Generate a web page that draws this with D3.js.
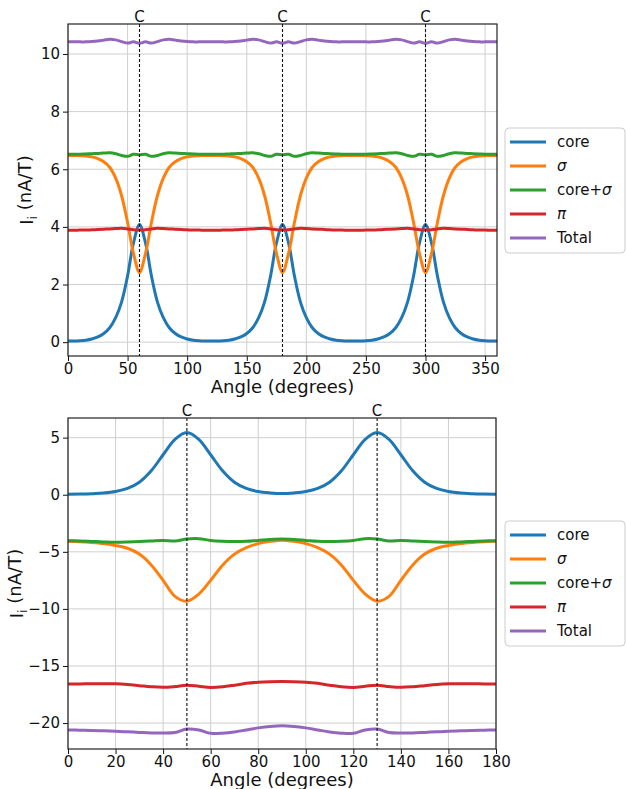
<!DOCTYPE html>
<html>
<head>
<meta charset="utf-8">
<script src="https://cdn.jsdelivr.net/npm/d3@7.9.0/dist/d3.min.js"></script>
<style>
  body { margin: 0; background: #fff; }
  svg { display: block; font-family: "DejaVu Sans", sans-serif; }
</style>
</head>
<body>
<svg id="chart" width="626" height="789"></svg>
<script>
// series shared by both panels
const seriesNames = ["core", "σ", "core+σ", "π", "Total"];
const colors = ["#1f77b4", "#ff7f0e", "#2ca02c", "#d62728", "#9467bd"];

// ---- top panel: 0..360 degrees
const topAngles = [0,5,10,15,20,25,30,35,40,45,50,55,60,65,70,75,80,85,90,95,100,105,110,115,120,
  125,130,135,140,145,150,155,160,165,170,175,180,185,190,195,200,205,210,215,220,225,230,235,240,
  245,250,255,260,265,270,275,280,285,290,295,300,305,310,315,320,325,330,335,340,345,350,355,360];
const topCore = [0.04,0.04,0.05,0.07,0.11,0.18,0.30,0.50,0.85,1.40,2.30,3.45,4.08,3.45,2.30,1.40,0.85,0.50,0.30,0.18,0.11,0.07,0.05,0.04,0.04,
  0.04,0.05,0.07,0.11,0.18,0.30,0.50,0.85,1.40,2.30,3.45,4.08,3.45,2.30,1.40,0.85,0.50,0.30,0.18,0.11,0.07,0.05,0.04,0.04,
  0.04,0.05,0.07,0.11,0.18,0.30,0.50,0.85,1.40,2.30,3.45,4.08,3.45,2.30,1.40,0.85,0.50,0.30,0.18,0.11,0.07,0.05,0.04,0.04];
const topSigma = [6.48,6.48,6.47,6.46,6.43,6.37,6.26,6.07,5.69,5.08,4.15,3.07,2.42,3.07,4.15,5.08,5.69,6.07,6.26,6.37,6.43,6.46,6.47,6.48,6.48,
  6.48,6.47,6.46,6.43,6.37,6.26,6.07,5.69,5.08,4.15,3.07,2.42,3.07,4.15,5.08,5.69,6.07,6.26,6.37,6.43,6.46,6.47,6.48,6.48,
  6.48,6.47,6.46,6.43,6.37,6.26,6.07,5.69,5.08,4.15,3.07,2.42,3.07,4.15,5.08,5.69,6.07,6.26,6.37,6.43,6.46,6.47,6.48,6.48];
const topCoreSigma = [6.52,6.52,6.52,6.53,6.54,6.55,6.56,6.57,6.54,6.48,6.45,6.52,6.50,6.52,6.45,6.48,6.54,6.57,6.56,6.55,6.54,6.53,6.52,6.52,6.52,
  6.52,6.52,6.53,6.54,6.55,6.56,6.57,6.54,6.48,6.45,6.52,6.50,6.52,6.45,6.48,6.54,6.57,6.56,6.55,6.54,6.53,6.52,6.52,6.52,
  6.52,6.52,6.53,6.54,6.55,6.56,6.57,6.54,6.48,6.45,6.52,6.50,6.52,6.45,6.48,6.54,6.57,6.56,6.55,6.54,6.53,6.52,6.52,6.52];
const topPi = [3.88,3.88,3.89,3.89,3.90,3.91,3.92,3.93,3.94,3.95,3.93,3.90,3.89,3.90,3.93,3.95,3.94,3.93,3.92,3.91,3.90,3.89,3.89,3.88,3.88,
  3.88,3.89,3.89,3.90,3.91,3.92,3.93,3.94,3.95,3.93,3.90,3.89,3.90,3.93,3.95,3.94,3.93,3.92,3.91,3.90,3.89,3.89,3.88,3.88,
  3.88,3.89,3.89,3.90,3.91,3.92,3.93,3.94,3.95,3.93,3.90,3.89,3.90,3.93,3.95,3.94,3.93,3.92,3.91,3.90,3.89,3.89,3.88,3.88];
const topTotal = [10.42,10.42,10.42,10.42,10.43,10.45,10.48,10.51,10.49,10.43,10.38,10.42,10.37,10.42,10.38,10.43,10.49,10.51,10.48,10.45,10.43,10.42,10.42,10.42,10.42,
  10.42,10.42,10.42,10.43,10.45,10.48,10.51,10.49,10.43,10.38,10.42,10.37,10.42,10.38,10.43,10.49,10.51,10.48,10.45,10.43,10.42,10.42,10.42,10.42,
  10.42,10.42,10.42,10.43,10.45,10.48,10.51,10.49,10.43,10.38,10.42,10.37,10.42,10.38,10.43,10.49,10.51,10.48,10.45,10.43,10.42,10.42,10.42,10.42];
const topXTicks = [0, 50, 100, 150, 200, 250, 300, 350];
const topYTicks = [0, 2, 4, 6, 8, 10];
const topCarbons = [60, 180, 300];

// ---- bottom panel: 0..180 degrees
const botAngles = [0,5,10,15,20,25,30,35,40,45,50,55,60,65,70,75,80,85,90,
  95,100,105,110,115,120,125,130,135,140,145,150,155,160,165,170,175,180];
const botCore = [0.05,0.06,0.09,0.15,0.28,0.55,1.10,2.10,3.50,4.85,5.45,4.85,3.50,2.10,1.10,0.55,0.28,0.16,0.10,
  0.16,0.28,0.55,1.10,2.10,3.50,4.85,5.45,4.85,3.50,2.10,1.10,0.55,0.28,0.15,0.09,0.06,0.05];
const botSigma = [-4.07,-4.11,-4.18,-4.28,-4.44,-4.69,-5.20,-6.15,-7.50,-8.90,-9.32,-8.70,-7.50,-6.17,-5.20,-4.63,-4.28,-4.08,-3.98,
  -4.08,-4.28,-4.63,-5.20,-6.17,-7.50,-8.70,-9.32,-8.90,-7.50,-6.15,-5.20,-4.69,-4.44,-4.28,-4.18,-4.11,-4.07];
const botCoreSigma = [-4.02,-4.05,-4.09,-4.13,-4.16,-4.14,-4.10,-4.05,-4.00,-4.05,-3.88,-3.85,-4.00,-4.07,-4.10,-4.08,-4.00,-3.92,-3.88,
  -3.92,-4.00,-4.08,-4.10,-4.07,-4.00,-3.85,-3.88,-4.05,-4.00,-4.05,-4.10,-4.14,-4.16,-4.13,-4.09,-4.05,-4.02];
const botPi = [-16.58,-16.57,-16.55,-16.55,-16.56,-16.62,-16.72,-16.82,-16.87,-16.80,-16.68,-16.78,-16.88,-16.82,-16.68,-16.52,-16.42,-16.37,-16.35,
  -16.37,-16.42,-16.52,-16.68,-16.82,-16.88,-16.78,-16.68,-16.80,-16.87,-16.82,-16.72,-16.62,-16.56,-16.55,-16.55,-16.57,-16.58];
const botTotal = [-20.60,-20.62,-20.64,-20.68,-20.72,-20.76,-20.82,-20.87,-20.87,-20.82,-20.52,-20.60,-20.90,-20.89,-20.78,-20.60,-20.42,-20.29,-20.23,
  -20.29,-20.42,-20.60,-20.78,-20.89,-20.90,-20.60,-20.52,-20.82,-20.87,-20.87,-20.82,-20.76,-20.72,-20.68,-20.64,-20.62,-20.60];
const botXTicks = [0, 20, 40, 60, 80, 100, 120, 140, 160, 180];
const botYTicks = [-20, -15, -10, -5, 0, 5];
const botCarbons = [50, 130];

const svg = d3.select("#chart");

function drawPanel(p) {
  const x = d3.scaleLinear().domain(p.xDomain).range([p.left, p.right]);
  const y = d3.scaleLinear().domain(p.yDomain).range([p.bottom, p.top]);
  const g = svg.append("g");

  // grid
  g.append("g").selectAll("line").data(p.xTicks).enter().append("line")
    .attr("x1", d => x(d)).attr("x2", d => x(d))
    .attr("y1", p.top).attr("y2", p.bottom)
    .attr("stroke", "#cfcfcf").attr("stroke-width", 1);
  g.append("g").selectAll("line").data(p.yTicks).enter().append("line")
    .attr("x1", p.left).attr("x2", p.right)
    .attr("y1", d => y(d)).attr("y2", d => y(d))
    .attr("stroke", "#cfcfcf").attr("stroke-width", 1);

  // curves
  const line = d3.line().curve(d3.curveCatmullRom.alpha(0.5))
    .x((d, i) => x(p.angles[i])).y(d => y(d));
  p.series.forEach((vals, k) => {
    g.append("path").datum(vals)
      .attr("d", line)
      .attr("fill", "none")
      .attr("stroke", colors[k])
      .attr("stroke-width", 3);
  });

  // carbon positions
  g.append("g").selectAll("line").data(p.carbons).enter().append("line")
    .attr("x1", d => x(d)).attr("x2", d => x(d))
    .attr("y1", p.top).attr("y2", p.bottom)
    .attr("stroke", "#111").attr("stroke-width", 1.1)
    .attr("stroke-dasharray", "3,2");
  g.append("g").selectAll("text").data(p.carbons).enter().append("text")
    .attr("x", d => x(d)).attr("y", p.top - 2)
    .attr("text-anchor", "middle")
    .attr("font-size", 15).attr("fill", "#111")
    .text("C");

  // axes
  const xAxis = g.append("g").attr("transform", `translate(0,${p.bottom})`)
    .call(d3.axisBottom(x).tickValues(p.xTicks).tickSize(5).tickPadding(2).tickFormat(d3.format("d")));
  const yAxis = g.append("g").attr("transform", `translate(${p.left},0)`)
    .call(d3.axisLeft(y).tickValues(p.yTicks).tickSize(5).tickPadding(3).tickFormat(d3.format("d")));
  [xAxis, yAxis].forEach(a => {
    a.select(".domain").remove();
    a.selectAll("text").attr("font-size", 15).attr("fill", "#111").attr("font-family", "DejaVu Sans");
    a.selectAll("line").attr("stroke", "#111");
  });

  // spines
  g.append("rect")
    .attr("x", p.left).attr("y", p.top)
    .attr("width", p.right - p.left).attr("height", p.bottom - p.top)
    .attr("fill", "none").attr("stroke", "#222").attr("stroke-width", 1.2);

  // axis labels
  g.append("text")
    .attr("x", (p.left + p.right) / 2).attr("y", p.bottom + 37)
    .attr("text-anchor", "middle").attr("font-size", 18).attr("fill", "#111")
    .text("Angle (degrees)");
  const yl = g.append("text")
    .attr("transform", `translate(${p.ylabelX},${(p.top + p.bottom) / 2}) rotate(-90)`)
    .attr("text-anchor", "middle").attr("font-size", 18).attr("fill", "#111");
  yl.append("tspan").text("I");
  yl.append("tspan").attr("font-size", 12.6).attr("dy", "0.3em").text("i");
  yl.append("tspan").attr("dy", "-0.3em").text(" (nA/T)");

  // legend
  const lg = g.append("g").attr("transform", `translate(${p.legendX},${p.legendY})`);
  lg.append("rect")
    .attr("width", 120).attr("height", 125).attr("rx", 4)
    .attr("fill", "#fff").attr("fill-opacity", 0.8)
    .attr("stroke", "#cccccc").attr("stroke-width", 1);
  seriesNames.forEach((name, k) => {
    const cy = 14 + k * 24;
    lg.append("line")
      .attr("x1", 5).attr("x2", 41).attr("y1", cy).attr("y2", cy)
      .attr("stroke", colors[k]).attr("stroke-width", 3);
    const t = lg.append("text").attr("x", 52).attr("y", cy).attr("dy", "0.35em")
      .attr("font-size", 15).attr("fill", "#111");
    if (name.includes("σ") && name !== "σ") {
      t.append("tspan").text("core+");
      t.append("tspan").attr("font-style", "italic").text("σ");
    } else if (name === "σ" || name === "π") {
      t.append("tspan").attr("font-style", "italic").text(name);
    } else {
      t.text(name);
    }
  });
}

drawPanel({
  left: 68, right: 497, top: 24, bottom: 356,
  xDomain: [0, 360], yDomain: [-0.48, 11.04],
  xTicks: topXTicks, yTicks: topYTicks, carbons: topCarbons,
  angles: topAngles,
  series: [topCore, topSigma, topCoreSigma, topPi, topTotal],
  legendX: 505, legendY: 128, ylabelX: 33
});

drawPanel({
  left: 68, right: 496, top: 418, bottom: 749,
  xDomain: [0, 180], yDomain: [-22.27, 6.72],
  xTicks: botXTicks, yTicks: botYTicks, carbons: botCarbons,
  angles: botAngles,
  series: [botCore, botSigma, botCoreSigma, botPi, botTotal],
  legendX: 505, legendY: 521, ylabelX: 23
});
</script>
</body>
</html>
